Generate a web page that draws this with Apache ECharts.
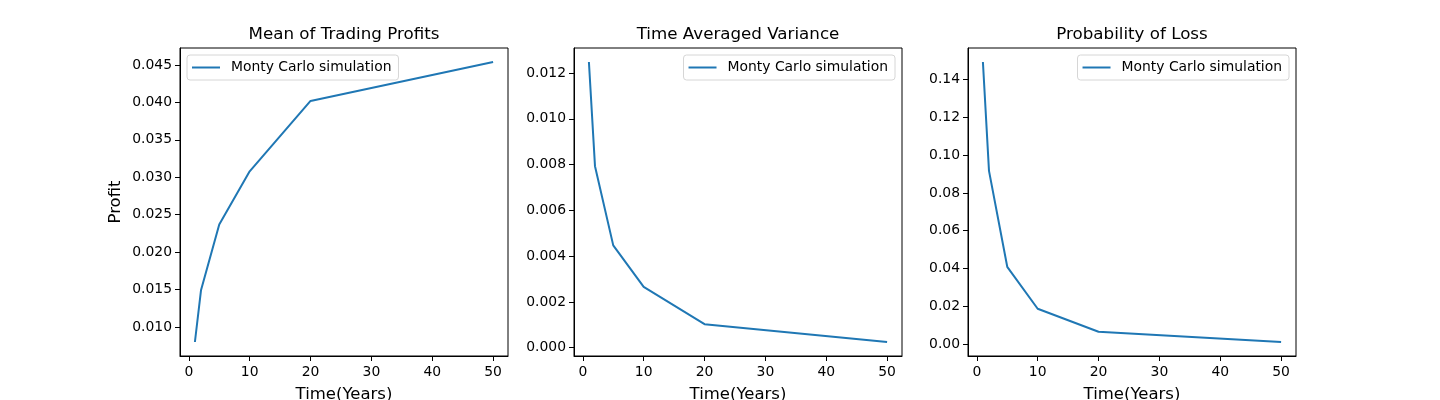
<!DOCTYPE html>
<html>
<head>
<meta charset="utf-8">
<script src="https://cdn.jsdelivr.net/npm/echarts@6/dist/echarts.min.js"></script>
<style>
html,body{margin:0;padding:0;background:#fff;}
#chart{width:1440px;height:400px;}
</style>
</head>
<body>
<div id="chart"></div>
<script>
// ---- data ----
var years = [1, 2, 5, 10, 20, 50];
var meanProfit = [0.0080, 0.0149, 0.0237, 0.0308, 0.0402, 0.0454];
var timeAvgVariance = [0.01248, 0.00793, 0.00447, 0.00266, 0.00103, 0.00025];
var probLoss = [0.1493, 0.0917, 0.0409, 0.0187, 0.0065, 0.0011];

var xTicks = [0, 10, 20, 30, 40, 50];
var yTicksProfit = [0.010, 0.015, 0.020, 0.025, 0.030, 0.035, 0.040, 0.045];
var yTicksVariance = [0.000, 0.002, 0.004, 0.006, 0.008, 0.010, 0.012];
var yTicksLoss = [0.00, 0.02, 0.04, 0.06, 0.08, 0.10, 0.12, 0.14];

var titles = ['Mean of Trading Profits', 'Time Averaged Variance', 'Probability of Loss'];
var seriesName = 'Monty Carlo simulation';
var xLabel = 'Time(Years)';
var yLabel = 'Profit';

// ---- layout ----
var FONT = 'DejaVu Sans';
var gridLefts = [180, 574, 968];
var gridW = 328, gridTop = 48, gridH = 308;
var lineColor = '#1f77b4';

function range(arr) {
  var mn = Math.min.apply(null, arr), mx = Math.max.apply(null, arr);
  var m = 0.05 * (mx - mn);
  return [mn - m, mx + m];
}

var xr = range(years);
var datasets = [meanProfit, timeAvgVariance, probLoss];
var yTicksAll = [yTicksProfit, yTicksVariance, yTicksLoss];
var decimals = [3, 3, 2];

var grids = [], xAxes = [], yAxes = [], series = [], titleArr = [];
for (var i = 0; i < 3; i++) {
  grids.push({
    left: gridLefts[i], top: gridTop, width: gridW, height: gridH,
    outerBoundsMode: 'none', containLabel: false,
    show: true, borderColor: '#000', borderWidth: 1, backgroundColor: 'transparent'
  });
  xAxes.push({
    type: 'value', gridIndex: i, min: xr[0], max: xr[1],
    name: xLabel, nameLocation: 'middle', nameGap: 30,
    nameTextStyle: { fontFamily: FONT, fontSize: 16.5, color: '#000' },
    axisLine: { show: true, onZero: false, lineStyle: { color: '#000', width: 1 } },
    axisTick: { show: true, length: 5, lineStyle: { color: '#000' }, customValues: xTicks },
    axisLabel: { customValues: xTicks, fontFamily: FONT, fontSize: 13.9, color: '#000', margin: 9 },
    splitLine: { show: false }
  });
  var yr = range(datasets[i]);
  (function (d) {
    yAxes.push({
      type: 'value', gridIndex: i, min: yr[0], max: yr[1],
      name: i === 0 ? yLabel : '', nameLocation: 'middle', nameGap: 56,
      nameTextStyle: { fontFamily: FONT, fontSize: 16.5, color: '#000' },
      axisLine: { show: true, onZero: false, lineStyle: { color: '#000', width: 1 } },
      axisTick: { show: true, length: 5, lineStyle: { color: '#000' }, customValues: yTicksAll[i] },
      axisLabel: {
        customValues: yTicksAll[i], fontFamily: FONT, fontSize: 13.9, color: '#000', margin: 8,
        formatter: function (v) { return Number(v).toFixed(d); }
      },
      splitLine: { show: false }
    });
  })(decimals[i]);
  series.push({
    type: 'line', name: seriesName, xAxisIndex: i, yAxisIndex: i,
    data: years.map(function (x, k) { return [x, datasets[i][k]]; }),
    showSymbol: false, symbol: 'none',
    lineStyle: { color: lineColor, width: 2 },
    itemStyle: { color: lineColor }
  });
  titleArr.push({
    text: titles[i], left: gridLefts[i] + gridW / 2, top: 26, textAlign: 'center', padding: 0,
    textStyle: { fontFamily: FONT, fontSize: 16.7, fontWeight: 'normal', color: '#000' }
  });
}

function legendOf(pos) {
  var l = {
    data: [seriesName], top: 55, orient: 'horizontal',
    icon: 'path://M0,0L28,0L28,2L0,2Z', itemWidth: 28, itemHeight: 2,
    padding: [5, 7, 5, 5], borderColor: '#d6d6d6', borderWidth: 1, borderRadius: 3,
    backgroundColor: 'rgba(255,255,255,0.8)', selectedMode: false,
    textStyle: { fontFamily: FONT, fontSize: 13.9, color: '#000', lineHeight: 15, padding: [0, 0, 0, 6] }
  };
  for (var k in pos) l[k] = pos[k];
  return l;
}

var option = {
  animation: false,
  backgroundColor: '#fff',
  title: titleArr,
  legend: [
    legendOf({ left: 187 }),
    legendOf({ right: 1440 - 895 }),
    legendOf({ right: 1440 - 1289 })
  ],
  grid: grids,
  xAxis: xAxes,
  yAxis: yAxes,
  series: series
};

var chart = echarts.init(document.getElementById('chart'), null, { renderer: 'canvas' });
chart.setOption(option);
</script>
</body>
</html>
